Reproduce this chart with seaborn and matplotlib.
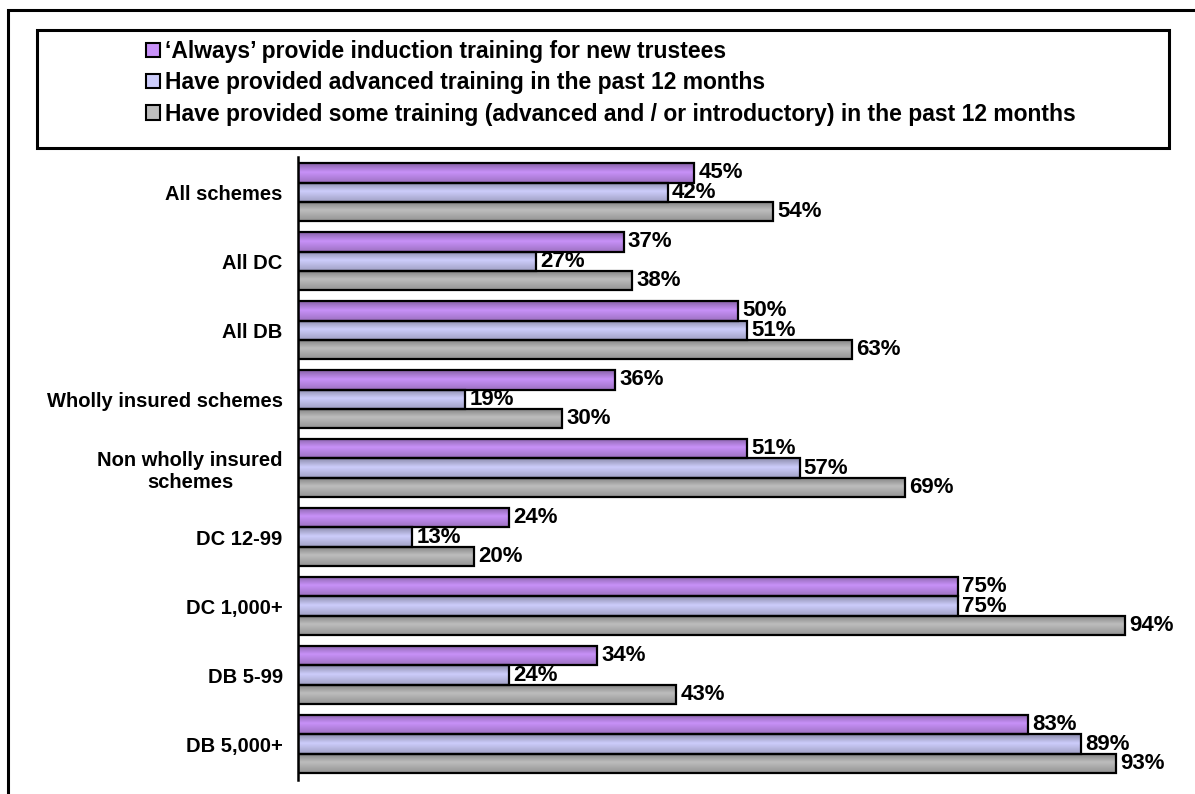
import numpy as np
import pandas as pd
import matplotlib.pyplot as plt
import seaborn as sns
from matplotlib.colors import to_rgb
from matplotlib.patches import Rectangle

# ── Data ─────────────────────────────────────────────────────────────────────
categories = [
    "All schemes", "All DC", "All DB", "Wholly insured schemes",
    "Non wholly insured\nschemes", "DC 12-99", "DC 1,000+", "DB 5-99", "DB 5,000+",
]
series = [
    "\u2018Always\u2019 provide induction training for new trustees",
    "Have provided advanced training in the past 12 months",
    "Have provided some training (advanced and / or introductory) in the past 12 months",
]
induction = [45, 37, 50, 36, 51, 24, 75, 34, 83]
advanced = [42, 27, 51, 19, 57, 13, 75, 24, 89]
some_training = [54, 38, 63, 30, 69, 20, 94, 43, 93]
colors = ["#C891F8", "#CDCDFB", "#BDBDBD"]

df = pd.DataFrame({
    "category": categories * 3,
    "series": [s for s in series for _ in categories],
    "value": induction + advanced + some_training,
})

# ── Style ────────────────────────────────────────────────────────────────────
sns.set_theme(style="white")
plt.rcParams["font.family"] = ["Liberation Sans", "DejaVu Sans"]
plt.rcParams["font.weight"] = "bold"
plt.rcParams["text.color"] = "black"

fig = plt.figure(figsize=(11.95, 7.94), dpi=100)
ax = fig.add_axes([298 / 1195, 1 - 780 / 794, 880 / 1195, 623 / 794])

sns.barplot(
    data=df, y="category", x="value", hue="series",
    hue_order=series, order=categories, palette=colors,
    width=0.84, edgecolor="black", linewidth=1.6, saturation=1,
    legend=False, ax=ax,
)

# shaded "cylinder" look of the bars, clipped to each bar
shade = np.interp(np.linspace(0, 1, 40), [0, 0.45, 1], [0.68, 1.0, 0.78])
for container, col in zip(ax.containers, colors):
    base = np.array(to_rgb(col))
    grad = np.clip(shade[:, None] * base[None, :], 0, 1)[:, None, :]
    for bar in container:
        x0, y0 = bar.get_x(), bar.get_y()
        w, h = bar.get_width(), bar.get_height()
        im = ax.imshow(grad, extent=(x0, x0 + w, y0 + h, y0), origin="upper",
                       aspect="auto", interpolation="bilinear", zorder=1)
        im.set_clip_path(bar)
        bar.set_facecolor("none")
        bar.set_zorder(2)

# value labels
for container in ax.containers:
    ax.bar_label(
        container, labels=[f"{v:.0f}%" for v in container.datavalues],
        padding=3, fontsize=16, fontweight="bold", color="black",
    )

ax.set_xlim(0, 100)
ax.set_ylim(8.52, -0.51)
ax.set_xlabel("")
ax.set_ylabel("")
ax.set_xticks([])
for side in ["top", "right", "bottom"]:
    ax.spines[side].set_visible(False)
ax.spines["left"].set_color("black")
ax.spines["left"].set_linewidth(1.8)
ax.tick_params(axis="y", length=0, pad=11, colors="black")
for lbl in ax.get_yticklabels():
    lbl.set_fontsize(14.5)
    lbl.set_fontweight("bold")
    lbl.set_multialignment("center")

# ── Frames ───────────────────────────────────────────────────────────────────
fig.patches.append(Rectangle(
    (8 / 1195, -0.05), 1.2, 1 - 10 / 794 + 0.05, transform=fig.transFigure,
    fill=False, edgecolor="black", linewidth=2.2,
))
fig.patches.append(Rectangle(
    (37 / 1195, 1 - 148 / 794), (1169 - 37) / 1195, (148 - 30) / 794,
    transform=fig.transFigure, fill=False, edgecolor="black", linewidth=2.2,
))

# ── Legend ───────────────────────────────────────────────────────────────────
handles = [Rectangle((0, 0), 1, 1, facecolor=c, edgecolor="black", linewidth=1.5)
           for c in colors]
fig.legend(
    handles, series, loc="upper left",
    bbox_to_anchor=(146 / 1195, 1 - 40 / 794), frameon=False,
    prop={"size": 16.5, "weight": "bold"}, labelcolor="black",
    handlelength=0.6, handleheight=0.6, handletextpad=0.25,
    labelspacing=0.36, borderaxespad=0, borderpad=0,
)

fig.savefig("out.png", dpi=100)
